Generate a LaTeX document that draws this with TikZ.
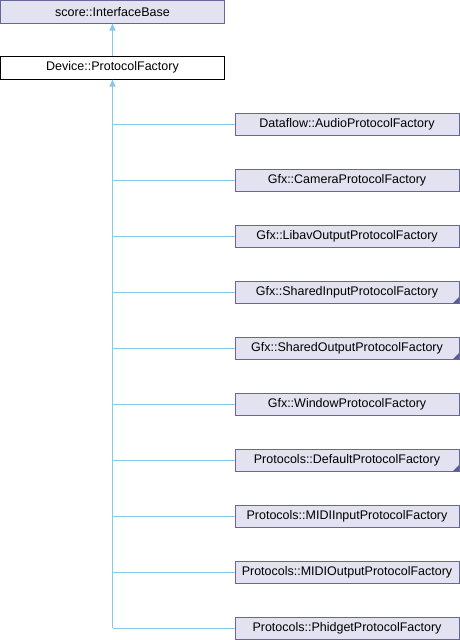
\documentclass[tikz,border=0pt]{standalone}
\usepackage{fontspec}
\setmainfont{Liberation Sans}
\usetikzlibrary{arrows.meta}
\definecolor{boxfill}{RGB}{226,226,240}
\definecolor{boxdraw}{RGB}{102,102,153}
\definecolor{edgecol}{RGB}{135,200,235}
\definecolor{markcol}{RGB}{90,90,150}
\tikzset{
  base/.style={draw=boxdraw, fill=boxfill, line width=1pt, inner sep=0pt,
    minimum width=224pt, minimum height=22pt, font=\fontsize{12.5}{14}\selectfont},
  devbox/.style={base, draw=black, fill=white, minimum height=23pt},
  topbox/.style={base, minimum height=22.5pt},
  edge/.style={draw=edgecol, line width=1pt},
  inh/.style={edge, -{Triangle[width=6pt,length=7pt]}},
  cornermark/.style={fill=markcol, draw=none}
}
\begin{document}
\begin{tikzpicture}[x=1pt,y=-1pt]
\useasboundingbox (0,0) rectangle (460,640);
\node[topbox] (top) at (112.5,11.75) {score::InterfaceBase};
\node[devbox] (dev) at (112.5,67.5) {Device::ProtocolFactory};
\draw[inh] (dev.north) -- (top.south);
\foreach \n/\y/\t in {1/124/Dataflow::AudioProtocolFactory,
  2/180/Gfx::CameraProtocolFactory,
  3/236/Gfx::LibavOutputProtocolFactory,
  4/292/Gfx::SharedInputProtocolFactory,
  5/348/Gfx::SharedOutputProtocolFactory,
  6/404/Gfx::WindowProtocolFactory,
  7/460/Protocols::DefaultProtocolFactory,
  8/516/Protocols::MIDIInputProtocolFactory,
  9/572/Protocols::MIDIOutputProtocolFactory,
  10/628/Protocols::PhidgetProtocolFactory}{
  \node[base] (c\n) at (347,\y) {\t};
  \coordinate (j\n) at (112.5,\y);
  \draw[edge] (j\n) -- (c\n.west);
}
\draw[inh] (j10) -- (dev.south);
\foreach \n in {4,5,7}{
  \fill[cornermark] (c\n.south east) ++(-0.5,-0.5) -- ++(0,-6) -- ++(-6,6) -- cycle;
}
\end{tikzpicture}
\end{document}
